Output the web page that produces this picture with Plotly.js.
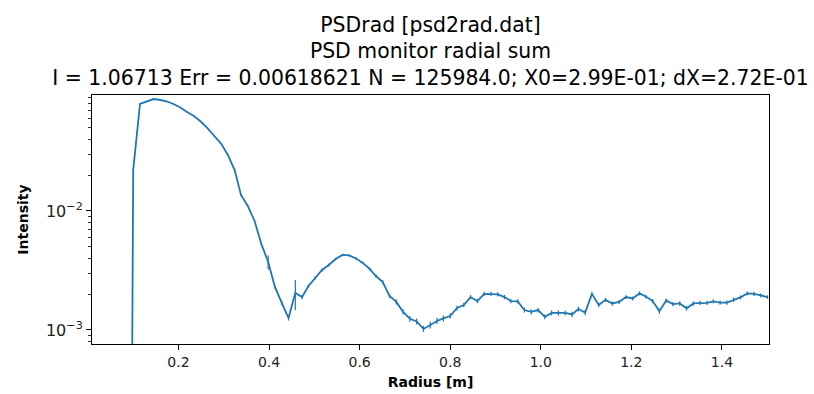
<!DOCTYPE html>
<html>
<head>
<meta charset="utf-8">
<script src="https://cdn.plot.ly/plotly-3.0.1.min.js"></script>
<style>html,body{margin:0;padding:0;background:#fff;}#chart{width:814px;height:394px;}</style>
</head>
<body>
<div id="chart"></div>
<script>
// Radius [m] (bin centres); the first point is an empty bin (drawn as ~0)
const radius = [0.085,
  0.100,0.115,0.130,0.145,0.160,0.175,0.189,0.204,0.219,0.234,
  0.249,0.264,0.279,0.294,0.309,0.324,0.338,0.353,0.368,0.383,
  0.398,0.413,0.428,0.443,0.458,0.473,0.487,0.502,0.517,0.532,
  0.547,0.562,0.577,0.592,0.607,0.622,0.636,0.651,0.666,0.681,
  0.696,0.711,0.726,0.741,0.756,0.771,0.785,0.800,0.815,0.830,
  0.845,0.860,0.875,0.890,0.905,0.920,0.934,0.949,0.964,0.979,
  0.994,1.009,1.024,1.039,1.054,1.069,1.083,1.098,1.113,1.128,
  1.143,1.158,1.173,1.188,1.203,1.218,1.232,1.247,1.262,1.277,
  1.292,1.307,1.322,1.337,1.352,1.367,1.381,1.396,1.411,1.426,
  1.441,1.456,1.471,1.486,1.501];

// Intensity
const intensity = [1e-12,
  0.0221,0.0793,0.0832,0.0873,0.0857,0.0832,0.0793,0.0741,0.0679,0.0629,
  0.0565,0.0498,0.0427,0.0369,0.0296,0.0221,0.01363,0.01102,0.00824,0.00528,
  0.00373,0.00230,0.00169,0.00126,0.00205,0.00189,0.00234,0.00274,0.00319,0.00352,
  0.00395,0.00427,0.00423,0.00399,0.00366,0.00326,0.00284,0.00253,0.00193,0.00172,
  0.00142,0.00124,0.00118,0.00102,0.00110,0.00119,0.00125,0.00131,0.00153,0.00162,
  0.00189,0.00175,0.00201,0.00201,0.00199,0.00189,0.00175,0.00174,0.00147,0.00142,
  0.00147,0.00129,0.00139,0.00139,0.00139,0.00135,0.00150,0.00140,0.00201,0.00162,
  0.00179,0.00167,0.00172,0.00189,0.00184,0.00203,0.00191,0.00175,0.00144,0.00177,
  0.00165,0.00167,0.00152,0.00167,0.00169,0.00169,0.00174,0.00170,0.00170,0.00180,
  0.00188,0.00203,0.00201,0.00195,0.00189];

// Error on intensity
const intensityErr = [0,
  0.0004,0.0008,0.0008,0.0008,0.0008,0.0008,0.0008,0.0007,0.0007,0.0006,
  0.0006,0.0005,0.0005,0.0004,0.0004,0.0003,0.0002,0.0002,0.00015,0.0001,
  0.0005,0.00008,0.00007,0.00006,0.00058,0.00008,0.00008,0.00009,0.0001,0.0001,
  0.0001,0.0001,0.0001,0.0001,0.0001,0.0001,0.00009,0.00009,0.00008,0.00008,
  0.00007,0.00007,0.00007,0.00006,0.00007,0.00007,0.00007,0.00007,0.00007,0.00007,
  0.00008,0.00007,0.00008,0.00008,0.00008,0.00008,0.00007,0.00007,0.00007,0.00007,
  0.00007,0.00006,0.00007,0.00007,0.00007,0.00007,0.00007,0.00007,0.00008,0.00007,
  0.00007,0.00007,0.00007,0.00007,0.00007,0.00008,0.00007,0.00007,0.00007,0.00007,
  0.00007,0.00007,0.00007,0.00007,0.00007,0.00007,0.00007,0.00007,0.00007,0.00007,
  0.00007,0.00008,0.00008,0.00008,0.00007];

const xTickVals = [0.2,0.4,0.6,0.8,1.0,1.2,1.4];
const xTickText = ['0.2','0.4','0.6','0.8','1.0','1.2','1.4'];
const yTickVals = [0.001,0.01];
const yTickText = ['10<sup>\u22123</sup>','10<sup>\u22122</sup>'];
const yMinorVals = [0.0008,0.0009,0.002,0.003,0.004,0.005,0.006,0.007,0.008,0.009,
                    0.02,0.03,0.04,0.05,0.06,0.07,0.08,0.09];

const titleLines = ['PSDrad [psd2rad.dat]','PSD monitor radial sum',
  'I = 1.06713 Err = 0.00618621 N = 125984.0; X0=2.99E-01; dX=2.72E-01'];

const font = 'DejaVu Sans, sans-serif';

const trace = {
  x: radius, y: intensity, type: 'scatter', mode: 'lines',
  line: {color: '#1f77b4', width: 1.8},
  error_y: {type: 'data', array: intensityErr, visible: true, color: '#1f77b4', thickness: 1.2, width: 0},
  hoverinfo: 'x+y'
};

const layout = {
  width: 814, height: 394,
  margin: {l: 92, r: 45, t: 95, b: 50},
  paper_bgcolor: '#fff', plot_bgcolor: '#fff',
  showlegend: false,
  font: {family: font, color: '#000', size: 14},
  title: {
    text: titleLines.join('<br>'),
    font: {family: font, size: 20.4, color: '#000'},
    x: 0.5, xref: 'paper', xanchor: 'center',
    y: 0.919, yref: 'container', yanchor: 'top'
  },
  xaxis: {
    range: [0.009, 1.504],
    tickmode: 'array', tickvals: xTickVals, ticktext: xTickText,
    ticks: 'outside', ticklen: 5, tickwidth: 1, tickcolor: '#000',
    showline: true, linecolor: '#000', linewidth: 1, mirror: true,
    showgrid: false, zeroline: false,
    tickfont: {family: font, size: 14, color: '#222'},
    title: {text: '<b>Radius [m]</b>', font: {family: font, size: 14, color: '#000'}, standoff: 8}
  },
  yaxis: {
    type: 'log', range: [-3.118, -1.025],
    tickmode: 'array', tickvals: yTickVals, ticktext: yTickText,
    ticks: 'outside', ticklen: 5, tickwidth: 1, tickcolor: '#000',
    minor: {tickmode: 'array', tickvals: yMinorVals, ticks: 'outside', ticklen: 3, tickwidth: 0.8, tickcolor: '#000', showgrid: false},
    showline: true, linecolor: '#000', linewidth: 1, mirror: true,
    showgrid: false, zeroline: false,
    tickfont: {family: font, size: 16, color: '#222'},
    title: {text: '<b>Intensity</b>', font: {family: font, size: 14, color: '#000'}, standoff: 14}
  }
};

Plotly.newPlot('chart', [trace], layout, {displayModeBar: false, staticPlot: true});
</script>
</body>
</html>
